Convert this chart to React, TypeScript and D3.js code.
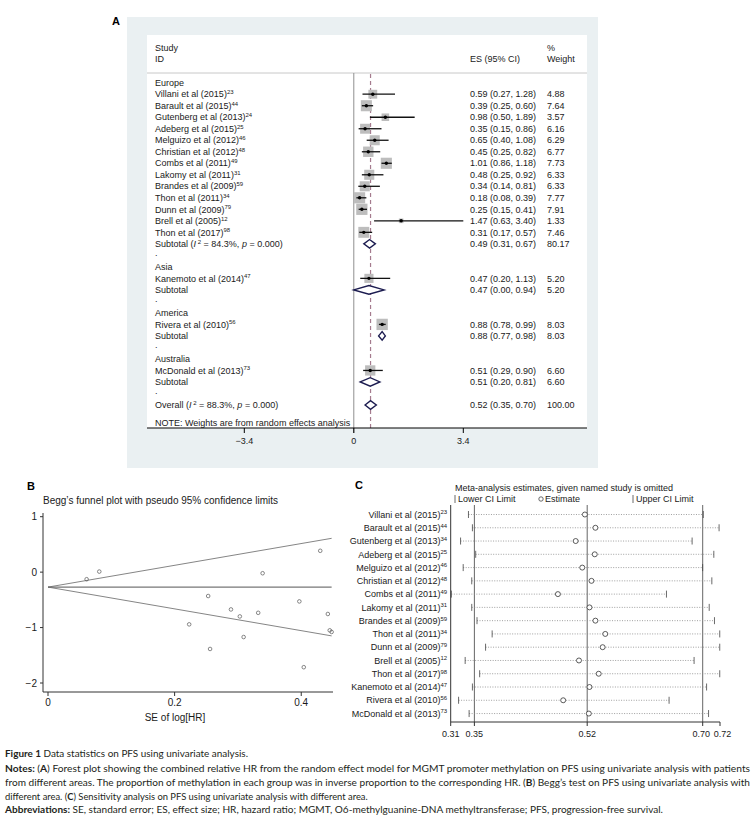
import * as React from 'react';
import * as d3 from 'd3';

// ---- Panel A: forest plot data ----
const studyNames = [
    'Villani et al (2015)', 'Barault et al (2015)', 'Gutenberg et al (2013)', 'Adeberg et al (2015)',
    'Melguizo et al (2012)', 'Christian et al (2012)', 'Combs et al (2011)', 'Lakomy et al (2011)',
    'Brandes et al (2009)', 'Thon et al (2011)', 'Dunn et al (2009)', 'Brell et al (2005)',
    'Thon et al (2017)', 'Kanemoto et al (2014)', 'Rivera et al (2010)', 'McDonald et al (2013)'
];
const refsA = ['23', '44', '24', '25', '46', '48', '49', '31', '59', '34', '79', '12', '98', '47', '56', '73'];
const refsC = ['23', '44', '34', '25', '46', '48', '49', '31', '59', '34', '79', '12', '98', '47', '56', '73'];
const studyRegion = [
    'Europe', 'Europe', 'Europe', 'Europe', 'Europe', 'Europe', 'Europe', 'Europe',
    'Europe', 'Europe', 'Europe', 'Europe', 'Europe', 'Asia', 'America', 'Australia'
];
const hrEs = [0.59, 0.39, 0.98, 0.35, 0.65, 0.45, 1.01, 0.48, 0.34, 0.18, 0.25, 1.47, 0.31, 0.47, 0.88, 0.51];
const hrLo = [0.27, 0.25, 0.50, 0.15, 0.40, 0.25, 0.86, 0.25, 0.14, 0.08, 0.15, 0.63, 0.17, 0.20, 0.78, 0.29];
const hrHi = [1.28, 0.60, 1.89, 0.86, 1.08, 0.82, 1.18, 0.92, 0.81, 0.39, 0.41, 3.40, 0.57, 1.13, 0.99, 0.90];
const weights = [4.88, 7.64, 3.57, 6.16, 6.29, 6.77, 7.73, 6.33, 6.33, 7.77, 7.91, 1.33, 7.46, 5.20, 8.03, 6.60];

const regions = ['Europe', 'Asia', 'America', 'Australia'];
const subEs = [0.49, 0.47, 0.88, 0.51];
const subLo = [0.31, 0.00, 0.77, 0.20];
const subHi = [0.67, 0.94, 0.98, 0.81];
const subWeight = [80.17, 5.20, 8.03, 6.60];
const subI2 = ['84.3%', '', '', ''];
const subP = ['0.000', '', '', ''];

const overallEs = 0.52;
const overallLo = 0.35;
const overallHi = 0.70;
const overallWeight = 100;
const overallI2 = '88.3%';
const overallP = '0.000';
const forestTicks = [-3.4, 0, 3.4];

// ---- Panel B: Begg's funnel ----
const funnelSE = [0.397, 0.223, 0.339, 0.445, 0.253, 0.303, 0.081, 0.332, 0.448, 0.404, 0.256, 0.430, 0.309, 0.442, 0.061, 0.289];
const funnelLogHR = [-0.528, -0.942, -0.020, -1.050, -0.431, -0.799, 0.010, -0.734, -1.079, -1.715, -1.386, 0.385, -1.171, -0.755, -0.128, -0.673];
const funnelLimitSE = [0, 0.448];
const funnelCenter = [-0.27, -0.27];
const funnelUpper = [-0.27, 0.61];
const funnelLower = [-0.27, -1.15];
const funnelXTicks = [0, 0.2, 0.4];
const funnelYTicks = [1, 0, -1, -2];

// ---- Panel C: sensitivity (study omitted) ----
const omitLo = [0.341, 0.347, 0.329, 0.352, 0.333, 0.346, 0.315, 0.346, 0.354, 0.377, 0.367, 0.336, 0.358, 0.347, 0.326, 0.342];
const omitEst = [0.518, 0.534, 0.504, 0.533, 0.514, 0.528, 0.477, 0.525, 0.534, 0.549, 0.545, 0.509, 0.539, 0.525, 0.485, 0.524];
const omitHi = [0.698, 0.722, 0.681, 0.714, 0.697, 0.711, 0.642, 0.707, 0.715, 0.723, 0.723, 0.684, 0.723, 0.703, 0.646, 0.706];
const sensRefs = [0.35, 0.5215, 0.6971];
const sensTicks = [0.314, 0.35, 0.5215, 0.6971, 0.7234];

const sans = 'Liberation Sans, Arial, sans-serif';
const ink = '#1a1a1a';
const f2 = d3.format('.2f');

function Sup(props: { x: number, y: number, text: string, sup: string, anchor?: string, size?: number }) {
    const s = props.size || 9;
    return <text x={props.x} y={props.y} textAnchor={props.anchor || 'start'} fontSize={s} fill={ink}>
        {props.text}<tspan dy={-3.3} fontSize={s * 0.66}>{props.sup}</tspan>
    </text>;
}

function HetLabel(props: { x: number, y: number, head: string, i2: string, p: string }) {
    return <text x={props.x} y={props.y} fontSize={9} fill={ink}>
        {props.head} (<tspan fontStyle="italic">I</tspan>
        <tspan dy={-3.5} fontSize={6}> 2</tspan>
        <tspan dy={3.5}> = {props.i2}, </tspan>
        <tspan fontStyle="italic">p</tspan> = {props.p})
    </text>;
}

function Diamond(props: { fx: d3.ScaleLinear<number, number>, y: number, es: number, lo: number, hi: number }) {
    const { fx, y } = props;
    const h = 4.3;
    const pts = [[fx(props.lo), y], [fx(props.es), y - h], [fx(props.hi), y], [fx(props.es), y + h]];
    return <polygon points={pts.map(p => p.join(',')).join(' ')} fill="white" stroke="#1c1c50" strokeWidth={1.4} />;
}

function ForestPanel() {
    const fx = d3.scaleLinear().domain([-3.4, 3.4]).range([244.3, 463.3]);
    const rowY = (i: number) => 82.7 + i * 11.51;
    const nameX = 155, esX = 470, wX = 547;

    const items: React.ReactNode[] = [];
    let r = 0;
    regions.forEach((reg, g) => {
        items.push(<text key={'h' + g} x={nameX} y={rowY(r) + 3.2} fontSize={9} fill={ink}>{reg}</text>);
        r++;
        studyNames.forEach((name, i) => {
            if (studyRegion[i] !== reg) return;
            const y = rowY(r);
            const side = 4 * Math.sqrt(weights[i]);
            items.push(<g key={'s' + i}>
                <rect x={fx(hrEs[i]) - side / 2} y={y - side / 2} width={side} height={side} fill="#bdbdbd" />
                <line x1={fx(hrLo[i])} x2={fx(hrHi[i])} y1={y} y2={y} stroke="#111" strokeWidth={1.3} />
                <circle cx={fx(hrEs[i])} cy={y} r={1.7} fill="#000" />
                <Sup x={nameX} y={y + 3.2} text={name} sup={refsA[i]} />
                <text x={esX} y={y + 3.2} fontSize={9} fill={ink}>{`${f2(hrEs[i])} (${f2(hrLo[i])}, ${f2(hrHi[i])})`}</text>
                <text x={wX} y={y + 3.2} fontSize={9} fill={ink}>{f2(weights[i])}</text>
            </g>);
            r++;
        });
        const ys = rowY(r);
        items.push(<g key={'t' + g}>
            {subI2[g]
                ? <HetLabel x={nameX} y={ys + 3.2} head="Subtotal" i2={subI2[g]} p={subP[g]} />
                : <text x={nameX} y={ys + 3.2} fontSize={9} fill={ink}>Subtotal</text>}
            <Diamond fx={fx} y={ys} es={subEs[g]} lo={subLo[g]} hi={subHi[g]} />
            <text x={esX} y={ys + 3.2} fontSize={9} fill={ink}>{`${f2(subEs[g])} (${f2(subLo[g])}, ${f2(subHi[g])})`}</text>
            <text x={wX} y={ys + 3.2} fontSize={9} fill={ink}>{f2(subWeight[g])}</text>
        </g>);
        r++;
        items.push(<text key={'d' + g} x={nameX} y={rowY(r) + 1} fontSize={9} fill={ink}>.</text>);
        r++;
    });
    const yo = rowY(r);
    items.push(<g key="overall">
        <HetLabel x={nameX} y={yo + 3.2} head="Overall" i2={overallI2} p={overallP} />
        <Diamond fx={fx} y={yo} es={overallEs} lo={overallLo} hi={overallHi} />
        <text x={esX} y={yo + 3.2} fontSize={9} fill={ink}>{`${f2(overallEs)} (${f2(overallLo)}, ${f2(overallHi)})`}</text>
        <text x={wX} y={yo + 3.2} fontSize={9} fill={ink}>{f2(overallWeight)}</text>
    </g>);

    const axisY = 428;
    return <g fontFamily={sans}>
        <text x={112} y={25} fontSize={11} fontWeight="bold" fill="#000">A</text>
        <rect x={127} y={17} width={471} height={451} fill="#eaf0f2" />
        <rect x={147} y={35} width={440} height={393} fill="#fff" />
        <text x={nameX} y={51} fontSize={9} fill={ink}>Study</text>
        <text x={nameX} y={62} fontSize={9} fill={ink}>ID</text>
        <text x={esX} y={62} fontSize={9} fill={ink}>ES (95% CI)</text>
        <text x={wX} y={51} fontSize={9} fill={ink}>%</text>
        <text x={wX} y={62} fontSize={9} fill={ink}>Weight</text>
        <line x1={147} x2={587} y1={73} y2={73} stroke="#c8c8c8" strokeWidth={1} />
        <line x1={fx(0)} x2={fx(0)} y1={73} y2={axisY + 5} stroke="#8f8f8f" strokeWidth={1} />
        <line x1={fx(overallEs)} x2={fx(overallEs)} y1={74} y2={axisY} stroke="#a57b8e" strokeWidth={1.2} strokeDasharray="4 3" />
        {items}
        <text x={nameX} y={426} fontSize={9} fill={ink}>NOTE: Weights are from random effects analysis</text>
        <line x1={147} x2={587} y1={axisY} y2={axisY} stroke="#000" strokeWidth={1} />
        {forestTicks.map(t => <g key={t}>
            <line x1={fx(t)} x2={fx(t)} y1={axisY} y2={axisY + 5} stroke="#000" />
            <text x={fx(t)} y={axisY + 16} fontSize={9} textAnchor="middle" fill={ink}>{d3.format('')(t)}</text>
        </g>)}
    </g>;
}

function FunnelPanel() {
    const bx = d3.scaleLinear().domain([0, 0.45]).range([48, 332.9]);
    const by = d3.scaleLinear().domain([-2, 1]).range([683, 516.7]);
    const line = d3.line<[number, number]>().x(d => bx(d[0])).y(d => by(d[1]));
    const seg = (ys: number[]) => line(funnelLimitSE.map((s, i) => [s, ys[i]] as [number, number])) || '';
    const axX = 43, axY = 692;
    return <g fontFamily={sans} fill={ink}>
        <text x={27} y={490} fontSize={11} fontWeight="bold" fill="#000">B</text>
        <text x={43} y={504} fontSize={10}>Begg’s funnel plot with pseudo 95% confidence limits</text>
        <line x1={axX} x2={axX} y1={513} y2={axY} stroke="#333" />
        <line x1={axX} x2={333} y1={axY} y2={axY} stroke="#333" />
        {funnelYTicks.map(t => <g key={t}>
            <line x1={axX - 3} x2={axX} y1={by(t)} y2={by(t)} stroke="#333" />
            <text x={37} y={by(t) + 3.5} fontSize={10} textAnchor="end">{d3.format('')(t)}</text>
        </g>)}
        {funnelXTicks.map(t => <g key={t}>
            <line x1={bx(t)} x2={bx(t)} y1={axY} y2={axY + 4} stroke="#333" />
            <text x={bx(t)} y={706} fontSize={10} textAnchor="middle">{d3.format('')(t)}</text>
        </g>)}
        <text x={175} y={721} fontSize={10} textAnchor="middle">SE of log[HR]</text>
        <path d={seg(funnelCenter)} stroke="#555" strokeWidth={1} fill="none" />
        <path d={seg(funnelUpper)} stroke="#666" strokeWidth={0.8} fill="none" />
        <path d={seg(funnelLower)} stroke="#666" strokeWidth={0.8} fill="none" />
        {funnelSE.map((s, i) => <circle key={i} cx={bx(s)} cy={by(funnelLogHR[i])} r={1.8} fill="none" stroke="#555" strokeWidth={0.7} />)}
    </g>;
}

function SensitivityPanel() {
    const cx = d3.scaleLinear().domain([0.314, 0.7234]).range([450.7, 720]);
    const rowY = (i: number) => 514.5 + i * 13.27;
    const axY = 722, top = 505;
    // the last two tick labels sit close together, nudge them apart a little
    const labelNudge = [0, 0, 0, -1.5, 2.5];
    return <g fontFamily={sans} fill={ink}>
        <text x={355} y={489} fontSize={11} fontWeight="bold" fill="#000">C</text>
        <text x={455} y={491} fontSize={9}>Meta-analysis estimates, given named study is omitted</text>
        <line x1={455} x2={455} y1={495} y2={503} stroke="#444" strokeWidth={0.8} />
        <text x={458} y={502} fontSize={9}>Lower CI Limit</text>
        <circle cx={541} cy={499} r={2.2} fill="none" stroke="#444" strokeWidth={0.8} />
        <text x={545} y={502} fontSize={9}>Estimate</text>
        <line x1={633} x2={633} y1={495} y2={503} stroke="#444" strokeWidth={0.8} />
        <text x={636} y={502} fontSize={9}>Upper CI Limit</text>
        {sensRefs.map(v => <line key={v} x1={cx(v)} x2={cx(v)} y1={top} y2={axY} stroke="#666" strokeWidth={1} />)}
        <line x1={cx(0.314)} x2={cx(0.314)} y1={top} y2={axY} stroke="#333" strokeWidth={1} />
        {studyNames.map((name, i) => {
            const y = rowY(i);
            return <g key={i}>
                <Sup x={447} y={y + 3.2} text={name} sup={refsC[i]} anchor="end" />
                <line x1={cx(omitLo[i])} x2={cx(omitHi[i])} y1={y} y2={y} stroke="#888" strokeWidth={0.8} strokeDasharray="1 1.5" />
                <line x1={cx(omitLo[i])} x2={cx(omitLo[i])} y1={y - 3.5} y2={y + 3.5} stroke="#444" strokeWidth={0.8} />
                <line x1={cx(omitHi[i])} x2={cx(omitHi[i])} y1={y - 3.5} y2={y + 3.5} stroke="#444" strokeWidth={0.8} />
                <circle cx={cx(omitEst[i])} cy={y} r={2.5} fill="#fff" stroke="#333" strokeWidth={0.8} />
            </g>;
        })}
        <line x1={cx(0.314)} x2={cx(0.7234)} y1={axY} y2={axY} stroke="#333" />
        {sensTicks.map((t, i) => <g key={t}>
            <line x1={cx(t)} x2={cx(t)} y1={axY} y2={axY + 4} stroke="#333" />
            <text x={cx(t) + labelNudge[i]} y={737} fontSize={9} textAnchor="middle">{f2(t)}</text>
        </g>)}
    </g>;
}

function Caption() {
    return <g fontFamily='Lato, "Open Sans", sans-serif' fontSize={9.8} fill="#231f20">
        <text x={5} y={757} textLength={243} lengthAdjust="spacingAndGlyphs">
            <tspan fontWeight="bold">Figure 1 </tspan>Data statistics on PFS using univariate analysis.
        </text>
        <text x={5} y={772} textLength={745} lengthAdjust="spacingAndGlyphs">
            <tspan fontWeight="bold">Notes: </tspan>(<tspan fontWeight="bold">A</tspan>) Forest plot showing the combined relative HR from the random effect model for MGMT promoter methylation on PFS using univariate analysis with patients
        </text>
        <text x={5} y={786} textLength={745} lengthAdjust="spacingAndGlyphs">
            from different areas. The proportion of methylation in each group was in inverse proportion to the corresponding HR. (<tspan fontWeight="bold">B</tspan>) Begg’s test on PFS using univariate analysis with
        </text>
        <text x={5} y={799.5} fontSize={9.4}>
            different area. (<tspan fontWeight="bold">C</tspan>) Sensitivity analysis on PFS using univariate analysis with different area.
        </text>
        <text x={5} y={813} textLength={658} lengthAdjust="spacingAndGlyphs">
            <tspan fontWeight="bold">Abbreviations: </tspan>SE, standard error; ES, effect size; HR, hazard ratio; MGMT, O6-methylguanine-DNA methyltransferase; PFS, progression-free survival.
        </text>
    </g>;
}

export default function App() {
    return <svg width={754} height={818} style={{ position: 'absolute', left: 0, top: 0, background: '#fff' }}>
        <rect width={754} height={818} fill="#fff" />
        <ForestPanel />
        <FunnelPanel />
        <SensitivityPanel />
        <Caption />
    </svg>;
}
